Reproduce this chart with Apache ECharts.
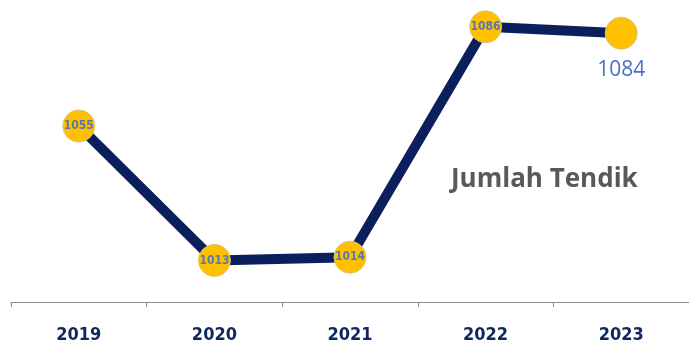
<!DOCTYPE html>
<html>
<head>
<meta charset="utf-8">
<script src="https://cdn.jsdelivr.net/npm/echarts@6/dist/echarts.min.js"></script>
<style>
  html, body { margin: 0; padding: 0; background: #fff; }
  #chart { width: 689px; height: 348px; }
</style>
</head>
<body>
<div id="chart"></div>
<script>
var years = ['2019', '2020', '2021', '2022', '2023'];
var tendik = [1055, 1013, 1014, 1086, 1084];

var myChart = echarts.init(document.getElementById('chart'));
var option = {
  animation: false,
  title: {
    text: 'Jumlah Tendik',
    left: 446,
    top: 162,
    textStyle: {
      color: '#595959',
      fontSize: 26,
      fontWeight: 'bold',
      fontFamily: 'Open Sans, sans-serif'
    }
  },
  grid: {
    top: 14,
    bottom: 46,
    left: 11,
    right: -12,
    containLabel: false
  },
  xAxis: {
    type: 'category',
    data: years,
    boundaryGap: true,
    axisLine: { lineStyle: { color: '#8c8c8c', width: 1 } },
    axisTick: { show: true, inside: false, length: 5, lineStyle: { color: '#8c8c8c' } },
    axisLabel: {
      margin: 24,
      color: '#10275e',
      fontSize: 18,
      fontWeight: 'bold',
      fontFamily: 'Liberation Sans Narrow, DejaVu Sans Condensed, sans-serif'
    }
  },
  yAxis: {
    type: 'value',
    min: 1000,
    max: 1090,
    show: false,
    splitLine: { show: false }
  },
  series: [{
    type: 'line',
    data: tendik,
    symbol: 'circle',
    symbolSize: 32,
    lineStyle: { color: '#0b1f5c', width: 10 },
    itemStyle: { color: '#ffc000', borderColor: '#e0c070', borderWidth: 1 },
    label: {
      show: true,
      position: 'inside',
      color: '#5878b0',
      fontSize: 12,
      fontWeight: 'bold',
      fontFamily: 'Liberation Sans Narrow, DejaVu Sans Condensed, sans-serif',
      formatter: function (p) {
        return p.dataIndex === tendik.length - 1 ? '' : p.value;
      }
    },
    markPoint: {
      symbol: 'circle',
      symbolSize: 0,
      data: [{ coord: [4, tendik[4]], value: tendik[4] }],
      label: {
        show: true,
        position: 'bottom',
        distance: 26,
        color: '#4472c4',
        fontSize: 21,
        fontFamily: 'Open Sans, sans-serif'
      }
    }
  }]
};
myChart.setOption(option);
</script>
</body>
</html>
